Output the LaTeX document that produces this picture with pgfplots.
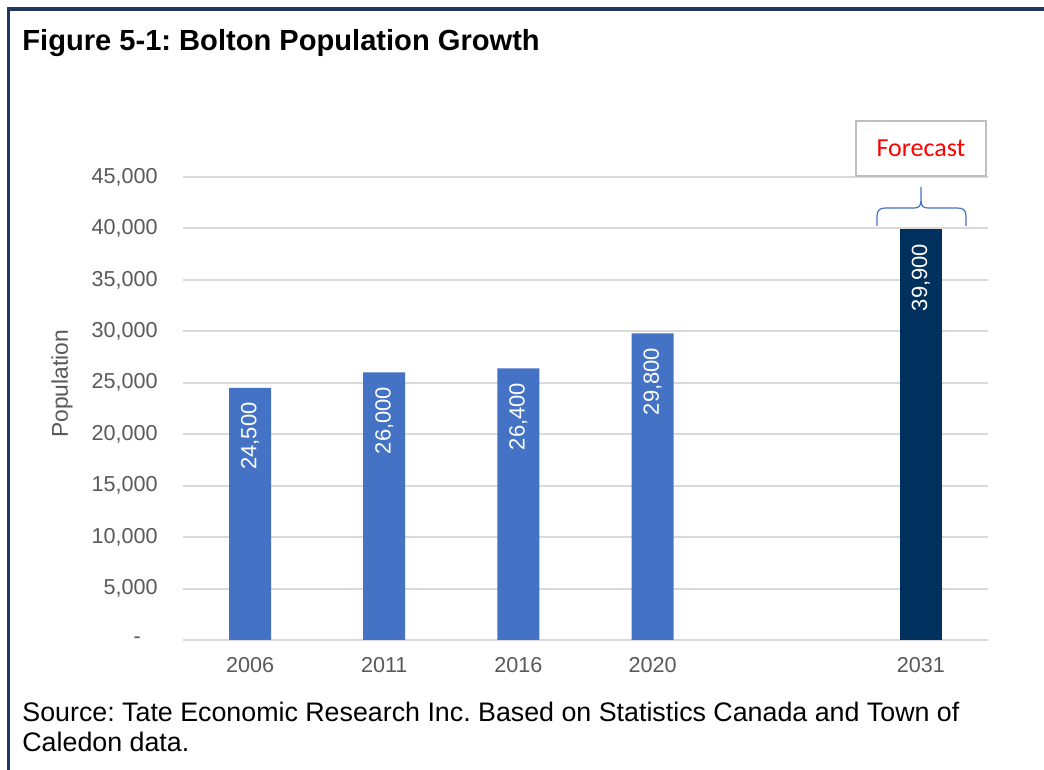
\documentclass[border=0pt]{standalone}
\usepackage{pgfplots}
\pgfplotsset{compat=1.18}
\usepackage{fontspec}
\setmainfont{Liberation Sans}
\newfontfamily\calibri{Carlito}
\definecolor{barblue}{RGB}{68,114,196}
\definecolor{barnavy}{RGB}{0,48,94}
\definecolor{framenavy}{RGB}{31,56,100}
\definecolor{gridgray}{RGB}{217,217,217}
\definecolor{ticktext}{RGB}{89,89,89}
\definecolor{boxgray}{RGB}{191,191,191}
\frenchspacing
\begin{document}
\begin{tikzpicture}[x=0.5pt,y=0.5pt]
\path[use as bounding box] (0,0) rectangle (1044,770);
\fill[white] (0,0) rectangle (1044,770);
\draw[framenavy, line width=1.6pt] (8.5,-5) -- (8.5,761) -- (1050,761);
\begin{axis}[
  at={(91.5pt,65pt)}, anchor=south west,
  scale only axis, width=402.5pt, height=231.5pt,
  xmin=-0.5, xmax=5.5, ymin=0, ymax=45000,
  ybar, bar width=21pt,
  axis line style={draw=none},
  ymajorgrids, grid style={gridgray, line width=1pt},
  major tick length=0,
  scaled y ticks=false,
  ytick={0,5000,...,45000},
  yticklabels={{\makebox[12pt][l]{-}},{5,000},{10,000},{15,000},{20,000},{25,000},{30,000},{35,000},{40,000},{45,000}},
  xtick={0,1,2,3,5}, xticklabels={2006,2011,2016,2020,2031},
  tick label style={font=\fontsize{10.8}{12}\selectfont, text=ticktext},
  yticklabel style={anchor=east, inner sep=0pt, xshift=-12.5pt},
  xticklabel style={anchor=north, inner sep=0pt, yshift=-8.75pt},
  ylabel={Population},
  ylabel style={at={(axis description cs:-0.1503,0.553)}, anchor=center, font=\fontsize{11.4}{13}\selectfont, text=ticktext},
  clip=false,
  /pgf/number format/.cd, fixed, 1000 sep={,}, assume math mode=true, /pgfplots/.cd,
  nodes near coords,
  nodes near coords style={rotate=90, anchor=east, text=white, font=\fontsize{11}{13}\selectfont, inner xsep=7pt},
]
\addplot[fill=barblue, draw=none, bar shift=0pt] coordinates {(0,24500) (1,26000) (2,26400) (3,29800)};
\addplot[fill=barnavy, draw=none, bar shift=0pt] coordinates {(5,39900)};
\end{axis}
\node[anchor=base west, inner sep=0pt, font=\bfseries\fontsize{14.55}{16}\selectfont] at (22,719) {Figure 5-1: Bolton Population Growth};
\node[anchor=base west, inner sep=0pt, font=\fontsize{13.4}{15}\selectfont] at (22,48) {Source: Tate Economic Research Inc. Based on Statistics Canada and Town of};
\node[anchor=base west, inner sep=0pt, font=\fontsize{13.4}{15}\selectfont] at (22,18) {Caledon data.};
\draw[boxgray, line width=1pt] (856,594) rectangle (986,649);
\node[text=red, font=\calibri\fontsize{13}{15}\selectfont] at (921,621.5) {Forecast};
\draw[barblue, line width=0.6pt] (877,544) -- (877,554) .. controls (877,560) and (880,562) .. (886,562) -- (914,562) .. controls (919,562) and (921,564) .. (921,570) -- (921,583)
  (921,570) .. controls (921,564) and (923,562) .. (928,562) -- (957,562) .. controls (963,562) and (966,560) .. (966,554) -- (966,544);
\end{tikzpicture}
\end{document}
